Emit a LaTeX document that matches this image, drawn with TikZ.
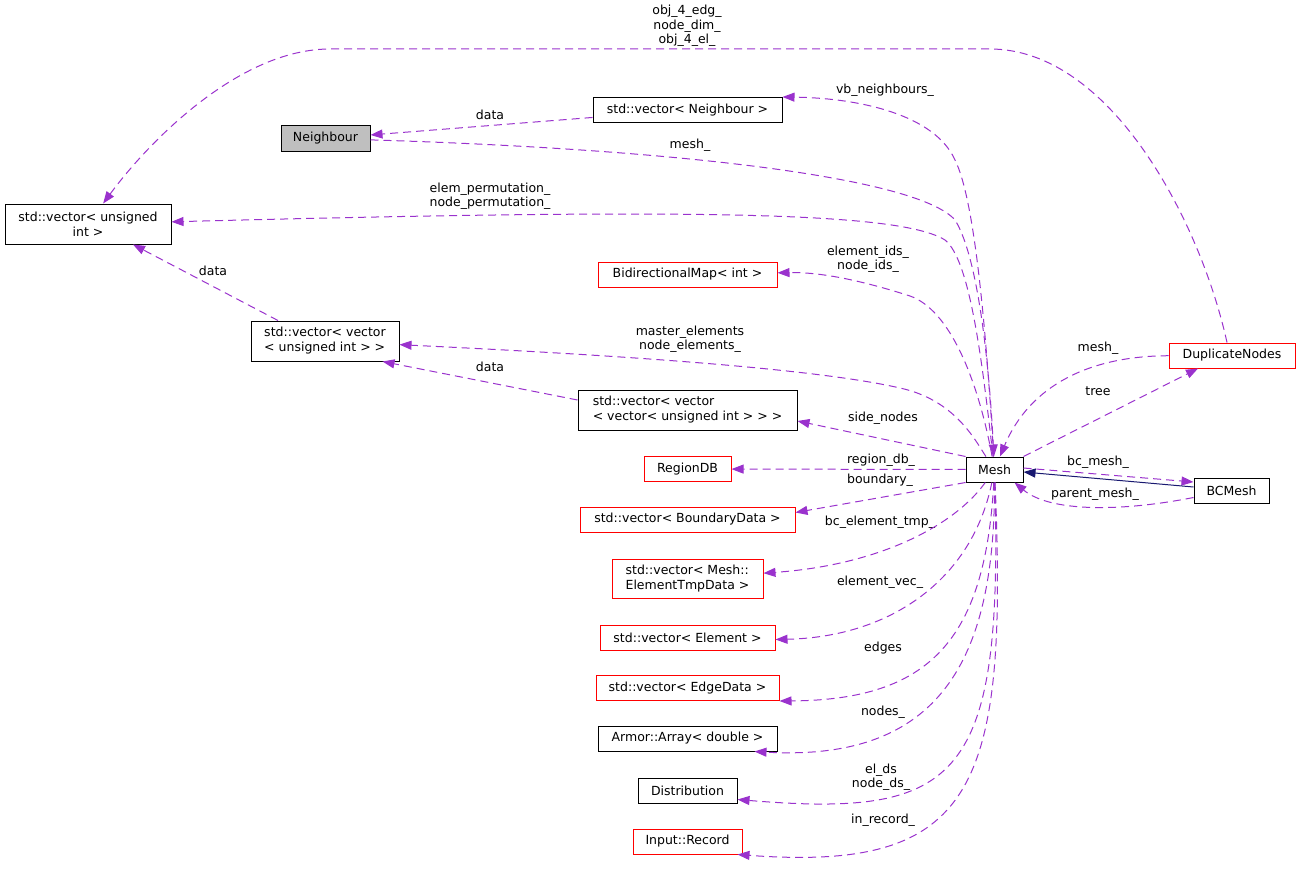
\documentclass[tikz,border=0pt]{standalone}
\usepackage{fontspec}
\setmainfont{DejaVu Sans}
\usetikzlibrary{arrows.meta}

\definecolor{memberedge}{HTML}{9A32CD}
\definecolor{inheritedge}{HTML}{191970}
\definecolor{docgray}{HTML}{BFBFBF}

\tikzset{
  klass/.style={draw=black, line width=1pt, inner sep=0pt, minimum height=25pt,
    align=center, font=\fontsize{12.5}{15}\selectfont},
  klassred/.style={klass, draw=red},
  member/.style={draw=memberedge, line width=1pt, dash pattern=on 8pt off 5pt,
    -{Triangle[length=12pt,width=9pt,fill=memberedge]}},
  inherit/.style={draw=inheritedge, line width=1pt,
    -{Triangle[length=12pt,width=9pt,fill=inheritedge]}},
  lbl/.style={inner sep=0pt, align=center, font=\fontsize{12.5}{14.5}\selectfont}
}

\begin{document}
\begin{tikzpicture}[x=1pt, y=-1pt]
\useasboundingbox (0,0) rectangle (1300,872);

% classes
\node[klass, fill=docgray, minimum width=89pt] (neighbour) at (325.5,138.5) {Neighbour};
\node[klass, minimum width=189pt] (vecnbr) at (687.5,110) {std::vector< Neighbour >};
\node[klass, minimum width=166pt, minimum height=40pt] (vecuint) at (88,224) {std::vector< unsigned\\int >};
\node[klassred, minimum width=179pt] (bidir) at (687.5,274.5) {BidirectionalMap< int >};
\node[klass, minimum width=148pt, minimum height=40pt, align=left] (vecvec) at (325,341) {std::vector< vector\\< unsigned int > >};
\node[klass, minimum width=219pt, minimum height=40pt, align=left] (vecvecvec) at (687.5,410) {std::vector< vector\\< vector< unsigned int > > >};
\node[klassred, minimum width=87pt] (regiondb) at (687.5,469) {RegionDB};
\node[klass, minimum width=57pt] (mesh) at (994.5,469.5) {Mesh};
\node[klassred, minimum width=215pt] (vecbnd) at (687.5,519.5) {std::vector< BoundaryData >};
\node[klassred, minimum width=151pt, minimum height=39pt, align=left] (vectmp) at (687.5,578.5) {std::vector< Mesh::\\ElementTmpData >};
\node[klassred, minimum width=175pt] (vecel) at (687.5,637.5) {std::vector< Element >};
\node[klassred, minimum width=183pt] (vecedge) at (687.5,688) {std::vector< EdgeData >};
\node[klass, minimum width=179pt] (armor) at (687.5,738.5) {Armor::Array< double >};
\node[klass, minimum width=99pt] (distr) at (687.5,790.5) {Distribution};
\node[klassred, minimum width=109pt] (inrec) at (687.5,841.5) {Input::Record};
\node[klassred, minimum width=126pt] (dupl) at (1232,355.5) {DuplicateNodes};
\node[klass, minimum width=75pt] (bcmesh) at (1231.5,490.5) {BCMesh};

% edge labels
\node[lbl] (lobj) at (687,26) {obj\_4\_edg\_\\node\_dim\_\\obj\_4\_el\_};
\node[lbl] (ldata1) at (490,115) {data};
\node[lbl] (lmeshn) at (690,145) {mesh\_};
\node[lbl] (lvbn) at (885,90) {vb\_neighbours\_};
\node[lbl] (lperm) at (490,196) {elem\_permutation\_\\node\_permutation\_};
\node[lbl] (lids) at (868,259) {element\_ids\_\\node\_ids\_};
\node[lbl] (ldata2) at (213,271) {data};
\node[lbl] (lmaster) at (690,339) {master\_elements\\node\_elements\_};
\node[lbl] (ldata3) at (490,367) {data};
\node[lbl] (lside) at (883,418) {side\_nodes};
\node[lbl] (lregion) at (881,460) {region\_db\_};
\node[lbl] (lbnd) at (880,480) {boundary\_};
\node[lbl] (lbctmp) at (880,522) {bc\_element\_tmp\_};
\node[lbl] (lelvec) at (880,582) {element\_vec\_};
\node[lbl] (ledges) at (883,648) {edges};
\node[lbl] (lnodes) at (883,712) {nodes\_};
\node[lbl] (lds) at (881,777) {el\_ds\\node\_ds\_};
\node[lbl] (lrec) at (883,820) {in\_record\_};
\node[lbl] (lmeshd) at (1098,348) {mesh\_};
\node[lbl] (ltree) at (1098,391) {tree};
\node[lbl] (lbcm) at (1098,462) {bc\_mesh\_};
\node[lbl] (lparent) at (1095,494) {parent\_mesh\_};

% members
\draw[member] ([xshift=-5pt]dupl.north) .. controls (1200,220) and (1110,49) .. (990,49)
  -- (330,49) .. controls (240,49) and (150,140) .. (vecuint);
\draw[member] (vecnbr) -- (neighbour);
\draw[member] (neighbour) .. controls (700,150) and (920,180) .. (955,220)
  .. controls (980,260) and (990,380) .. (mesh);
\draw[member] (mesh) .. controls (986,330) and (975,200) .. (955,160)
  .. controls (935,115) and (860,98) .. (vecnbr.north east);
\draw[member] (mesh) .. controls (982,360) and (970,260) .. (945,240)
  .. controls (900,212) and (700,208) .. (vecuint);
\draw[member] (mesh) .. controls (978,380) and (950,310) .. (910,296)
  .. controls (860,280) and (820,272) .. (bidir);
\draw[member] (mesh) .. controls (975,440) and (955,400) .. (900,388)
  .. controls (800,365) and (550,352) .. (vecvec);
\draw[member] ([yshift=10pt]vecvecvec.west) -- ([xshift=-17pt]vecvec.south east);
\draw[member] ([xshift=-47pt]vecvec.north) -- ([xshift=45pt]vecuint.south);
\draw[member] (mesh.north west) -- ([yshift=-11pt]vecvecvec.east);
\draw[member] (mesh) -- (regiondb);
\draw[member] (mesh.south west) -- ([yshift=7pt]vecbnd.east);
\draw[member] (mesh) .. controls (955,525) and (880,565) .. (vectmp);
\draw[member] (mesh) .. controls (972,580) and (890,637) .. ([yshift=-2pt]vecel.east);
\draw[member] (mesh) .. controls (985,640) and (930,700) .. (vecedge.south east);
\draw[member] (mesh) .. controls (995,660) and (940,762) .. ([xshift=67pt]armor.south);
\draw[member] (mesh) .. controls (1003,780) and (960,818) .. ([yshift=-9pt]distr.east);
\draw[member] (mesh) .. controls (1008,790) and (975,872) .. ([xshift=-5pt]inrec.south east);
\draw[member] (dupl) .. controls (1090,356) and (1030,385) .. (mesh);
\draw[member] (mesh.north east) -- ([xshift=-34pt]dupl.south);
\draw[member] ([yshift=1.5pt]mesh.east) -- ([yshift=8.5pt]bcmesh.west);
\draw[member] ([yshift=-7pt]bcmesh.west) .. controls (1120,512) and (1050,512) .. ([xshift=-9pt]mesh.south east);

% base class
\draw[inherit] ([yshift=3.5pt]bcmesh.west) -- ([yshift=-2.5pt]mesh.east);
\end{tikzpicture}
\end{document}
